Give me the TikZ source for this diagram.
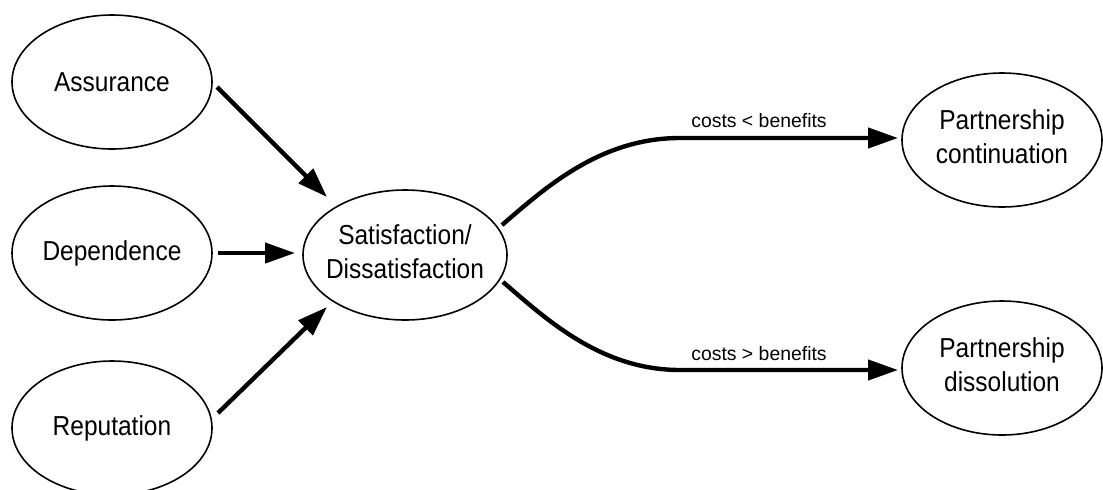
\documentclass[tikz,border=0pt]{standalone}
\usepackage{graphicx}
\usepackage{fontspec}
\setmainfont{Liberation Sans}
\usetikzlibrary{shapes.geometric,arrows.meta}
\tikzset{
  oval/.style={ellipse, draw, line width=0.8pt, minimum width=100pt, minimum height=67pt, inner sep=0pt,
    font=\fontsize{12.25pt}{15.2pt}\selectfont},
  bigoval/.style={oval, minimum width=102pt, minimum height=65pt},
  arr/.style={line width=2.2pt, -{Triangle[length=15pt,width=10pt]}},
  lbl/.style={font=\fontsize{9.7pt}{12pt}\selectfont, anchor=base, inner sep=0pt}
}
\newcommand{\oneline}[1]{\makebox[0pt]{\scalebox{1}[1.12]{#1}}}
\newcommand{\twolines}[2]{\makebox[0pt]{\scalebox{1}[1.12]{\begin{tabular}{@{}c@{}}#1\\#2\end{tabular}}}}
\begin{document}
\begin{tikzpicture}[x=0.5pt,y=-0.5pt]
\clip (0,0) rectangle (1103,489);
\fill[white] (0,0) rectangle (1103,489);
\node[oval] (asr) at (112,82) {\oneline{Assurance}};
\node[oval] (dep) at (112,253) {\oneline{Dependence}};
\node[oval] (rep) at (112,428) {\oneline{Reputation}};
\node[bigoval] (sat) at (405,255) {\twolines{Satisfaction/}{Dissatisfaction}};
\node[oval] (con) at (1002,140) {\twolines{Partnership}{continuation}};
\node[oval] (dis) at (1002,368) {\twolines{Partnership}{dissolution}};

\draw[arr] ([shift={(105,5)}]asr.center) -- ([shift={(-78,-58)}]sat.center);
\draw[arr] ([shift={(106,0)}]dep.center) -- ([shift={(-110,-2)}]sat.center);
\draw[arr] ([shift={(106,-15)}]rep.center) -- ([shift={(-78,52)}]sat.center);

\coordinate (up) at (680,138);
\coordinate (dn) at (680,370);
\draw[arr] ([shift={(97,-30)}]sat.center) .. controls (545,188) and (600,138) .. (up) -- ([shift={(-104,-2)}]con.center);
\draw[arr] ([shift={(98,27)}]sat.center) .. controls (545,318) and (600,370) .. (dn) -- ([shift={(-104,2)}]dis.center);

\node[lbl] (l1) at (759,127) {costs < benefits};
\node[lbl] (l2) at (759,360) {costs > benefits};
\end{tikzpicture}
\end{document}
